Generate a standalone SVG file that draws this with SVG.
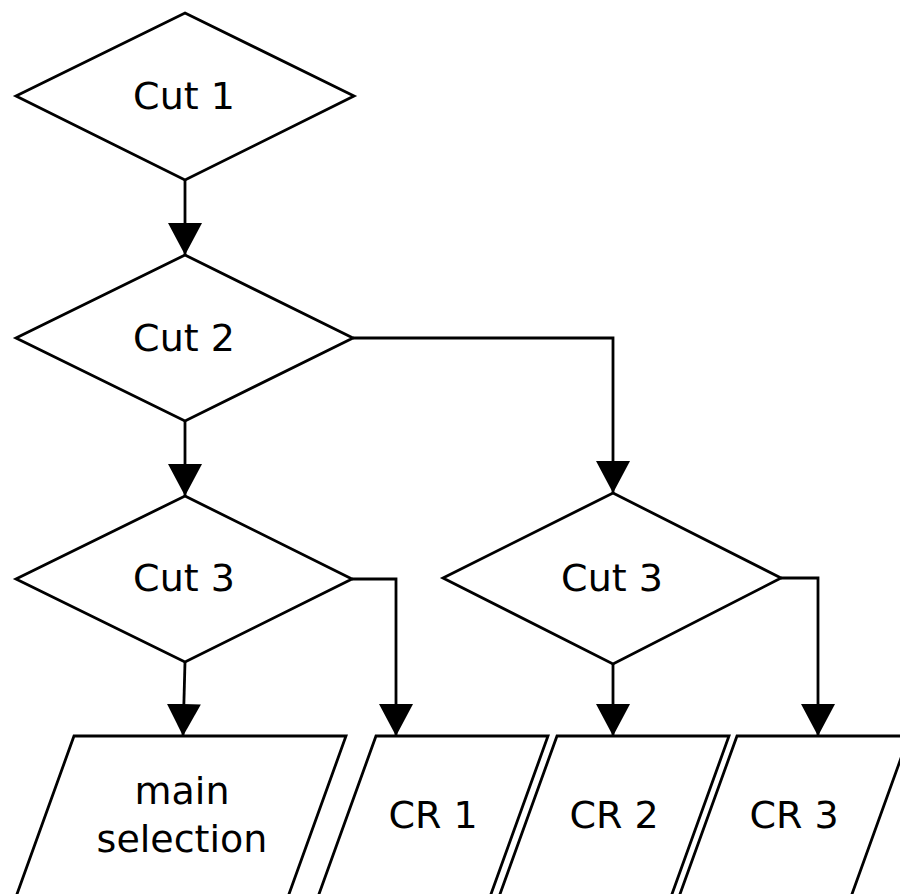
<svg xmlns="http://www.w3.org/2000/svg" width="900" height="894" viewBox="0 0 900 894">
<defs>
<marker id="arr" viewBox="0 0 32 34" refX="32" refY="17" markerWidth="32" markerHeight="34" markerUnits="userSpaceOnUse" orient="auto">
<path d="M0,0 L32,17 L0,34 z" fill="#000"/>
</marker>
<style>
.shape{fill:#fff;stroke:#000;stroke-width:2.8;stroke-linejoin:miter}
.conn{fill:none;stroke:#000;stroke-width:2.8;marker-end:url(#arr)}
.lbl{font-family:"DejaVu Sans","Liberation Sans",sans-serif;font-size:38px;fill:#000;text-anchor:middle}
</style>
</defs>
<rect width="900" height="894" fill="#fff"/>
<g id="cut1"><polygon class="shape" points="185,13 354,96 185,180 16,96"/><text class="lbl" x="184" y="109">Cut 1</text></g>
<g id="cut2"><polygon class="shape" points="185,255 353,338 185,421 16,338"/><text class="lbl" x="184" y="351">Cut 2</text></g>
<g id="cut3a"><polygon class="shape" points="185,496 352,579 185,662 16,579"/><text class="lbl" x="184" y="591">Cut 3</text></g>
<g id="cut3b"><polygon class="shape" points="613,493 781,578 613,664 443,578"/><text class="lbl" x="612" y="591">Cut 3</text></g>
<g id="main"><polygon class="shape" points="74,736 346,736 288.3,896 16.3,896"/><text class="lbl" x="182" y="804">main</text><text class="lbl" x="182" y="852">selection</text></g>
<g id="cr1"><polygon class="shape" points="376,736 548,736 490.3,896 318.3,896"/><text class="lbl" x="433" y="828">CR 1</text></g>
<g id="cr2"><polygon class="shape" points="557,736 729,736 671.3,896 499.3,896"/><text class="lbl" x="614" y="828">CR 2</text></g>
<g id="cr3"><polygon class="shape" points="737,736 909,736 851.3,896 679.3,896"/><text class="lbl" x="794" y="828">CR 3</text></g>
<g id="connectors">
<path class="conn" d="M185,180 L185,255"/>
<path class="conn" d="M185,421 L185,496"/>
<path class="conn" d="M353,338 L613,338 L613,493"/>
<path class="conn" d="M185,662 L183,736"/>
<path class="conn" d="M352,579 L396,579 L396,736"/>
<path class="conn" d="M613,664 L613,736"/>
<path class="conn" d="M781,578 L818,578 L818,736"/>
</g>
</svg>
